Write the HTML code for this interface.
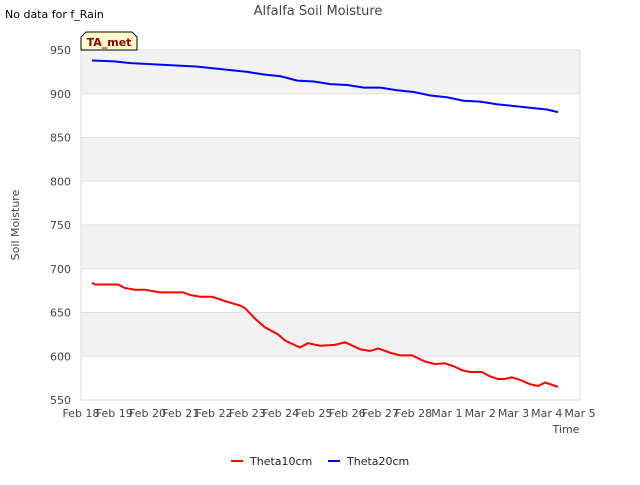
<!DOCTYPE html>
<html><head><meta charset="utf-8"><style>
body{margin:0;background:#fff;font-family:"Liberation Sans",sans-serif}
svg text{font-family:"DejaVu Sans","Liberation Sans",sans-serif}
</style></head><body>
<svg id="c" width="640" height="480" xmlns="http://www.w3.org/2000/svg">
<text x="318" y="15" font-size="13" fill="#444" text-anchor="middle">Alfalfa Soil Moisture</text>
<text x="5" y="18" font-size="11" fill="#000">No data for f_Rain</text>
<g id="plot"></g>
<text x="19" y="225" font-size="11" fill="#444" text-anchor="middle" transform="rotate(-90 19 225)">Soil Moisture</text>
<text x="566" y="433" font-size="11" fill="#444" text-anchor="middle">Time</text>
<g>
<path d="M81,50 L81,37 L86,32 L132,32 L137,37 L137,50 Z" fill="#ffffcc" stroke="#000" stroke-width="1"/>
<text x="109" y="46" font-size="11" font-weight="bold" fill="#8b0000" text-anchor="middle">TA_met</text>
</g>
<g><line x1="231" y1="461" x2="243" y2="461" stroke="red" stroke-width="2"/><text x="250" y="465" font-size="11" fill="#222">Theta10cm</text></g>
<g><line x1="328" y1="461" x2="340" y2="461" stroke="blue" stroke-width="2"/><text x="347" y="465" font-size="11" fill="#222">Theta20cm</text></g>
</svg>
<script>
const xTickLabels=["Feb 18","Feb 19","Feb 20","Feb 21","Feb 22","Feb 23","Feb 24","Feb 25","Feb 26","Feb 27","Feb 28","Mar 1","Mar 2","Mar 3","Mar 4","Mar 5"];
const yTicks=[550,600,650,700,750,800,850,900,950];
const t10Days=[0.33,0.42,1.11,1.32,1.62,1.92,2.37,3.07,3.28,3.58,3.94,4.33,4.78,4.93,5.23,5.53,5.92,6.13,6.58,6.82,7.18,7.63,7.94,8.39,8.69,8.93,9.29,9.59,9.95,10.34,10.64,10.94,11.24,11.45,11.69,12.05,12.29,12.53,12.74,12.95,13.2,13.5,13.74,13.95,14.34];
const t10Vals=[684,682,682,678,676,676,673,673,670,668,668,663,658,655,643,633,625,618,610,615,612,613,616,608,606,609,604,601,601,594,591,592,588,584,582,582,577,574,574,576,573,568,566,570,565];
const t20Days=[0.33,1,1.5,2,2.5,3,3.5,4,4.5,5,5.5,6,6.5,7,7.5,8,8.5,9,9.5,10,10.5,11,11.5,12,12.5,13,13.5,14,14.34];
const t20Vals=[938,937,935,934,933,932,931,929,927,925,922,920,915,914,911,910,907,907,904,902,898,896,892,891,888,886,884,882,879];
const L=81,R=580,T=50,B=400,ymin=550,ymax=950,nd=15;
const X=d=>L+d*(R-L)/nd, Y=v=>B-(v-ymin)*(B-T)/(ymax-ymin);
const NS="http://www.w3.org/2000/svg", g=document.getElementById('plot');
function mk(t,a){const e=document.createElementNS(NS,t);for(const k in a)e.setAttribute(k,a[k]);g.appendChild(e);return e;}
for(let i=0;i<yTicks.length-1;i++){if(i%2==1){const r=mk('rect',{x:L,y:Y(yTicks[i+1]),width:R-L,height:Y(yTicks[i])-Y(yTicks[i+1]),fill:'#f2f2f2'});

}}
yTicks.forEach(v=>{const l=mk('line',{x1:L,x2:R,y1:Y(v),y2:Y(v),stroke:'#e0e0e0'});


const t=mk('text',{x:L-10,y:Y(v)+4,'font-size':11,fill:'#444','text-anchor':'end'});t.textContent=v;

});
const fr=mk('rect',{x:L,y:T,width:R-L,height:B-T,fill:'none',stroke:'#ddd'});


xTickLabels.forEach((s,i)=>{const t=mk('text',{x:X(i),y:B+17,'font-size':11,fill:'#444','text-anchor':'middle'});t.textContent=s;

});
function line(d,v,c,n){const p=mk('polyline',{points:d.map((x,i)=>X(x)+','+Y(v[i])).join(' '),fill:'none',stroke:c,'stroke-width':2});

}
line(t10Days,t10Vals,'red','theta10-line');
line(t20Days,t20Vals,'blue','theta20-line');
</script>
</body></html>
